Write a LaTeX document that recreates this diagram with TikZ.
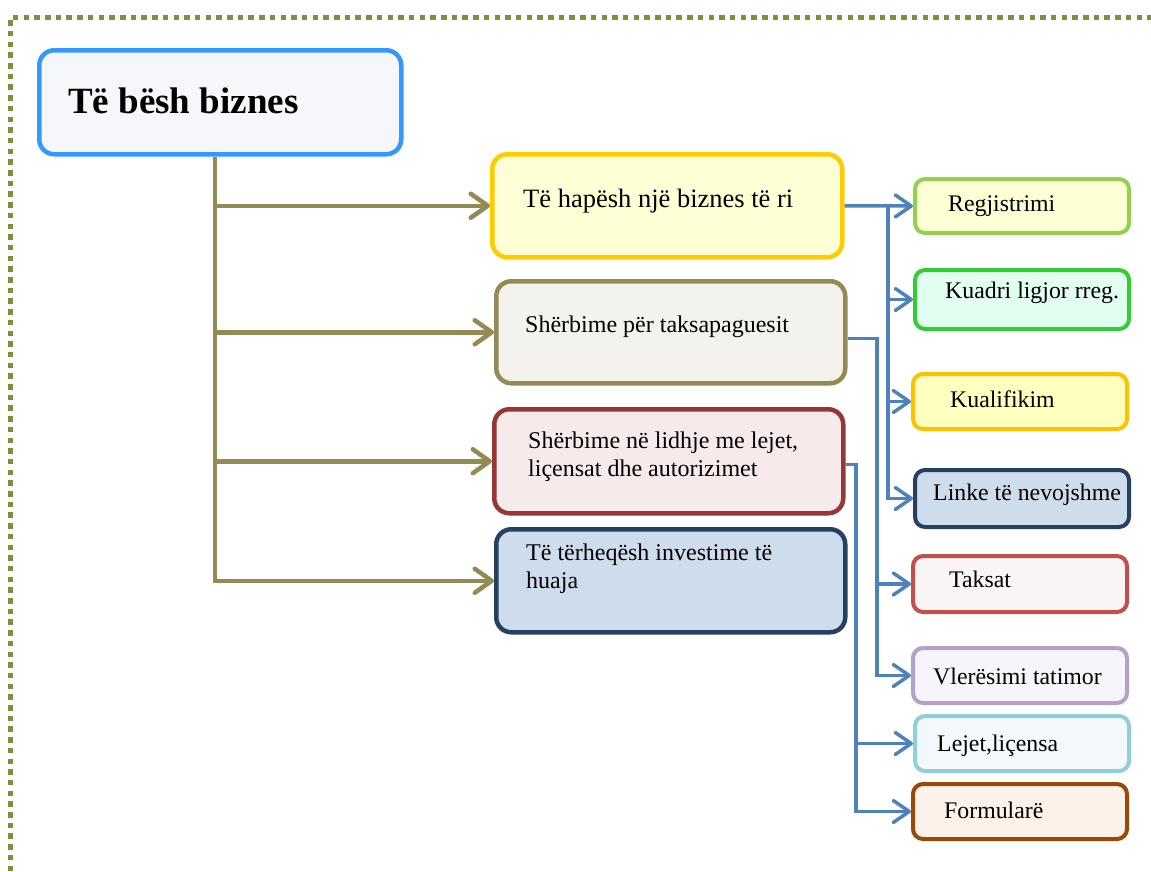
\documentclass[tikz,border=0pt]{standalone}
\usepackage{fontspec}
\setmainfont{Liberation Serif}
\usetikzlibrary{arrows.meta}
\definecolor{frameolive}{HTML}{77933C}
\definecolor{trunkolive}{HTML}{948A54}
\definecolor{linkblue}{HTML}{4F81BD}
\begin{document}
\begin{tikzpicture}[x=1pt,y=-1pt,
		bigbox/.style={anchor=north west, inner sep=0pt, line width=4.5pt, rounded corners=15pt, minimum width=349pt, minimum height=103pt},
		smallbox/.style={anchor=north west, inner sep=0pt, line width=4pt, rounded corners=10pt, minimum width=214pt, minimum height=55pt},
		boxtext/.style={anchor=base west, inner sep=0pt, align=left, font=\fontsize{24}{28}\selectfont},
		smalltext/.style={anchor=base west, inner sep=0pt, font=\fontsize{23.8}{28}\selectfont},
		olivelink/.style={draw=trunkolive, line width=4.5pt, -{Straight Barb[length=17pt, width=24pt, round]}},
		bluelink/.style={draw=linkblue, line width=3.5pt, -{Straight Barb[length=16pt, width=22pt, round]}}]
		\useasboundingbox (0,0) rectangle (1151,871);
		\draw[frameolive, line width=5.5pt, dash pattern=on 5.5pt off 5.2pt] (10.5,871) -- (10.5,17.5) -- (1151,17.5);
		% main box
		\node[bigbox, draw={rgb,255:red,51;green,153;blue,255}, fill={rgb,255:red,245;green,247;blue,251}, minimum width=362pt, minimum height=104pt] (title) at (37,48) {};
		\node[anchor=base west, inner sep=0pt, font=\bfseries\fontsize{37}{40}\selectfont] (titleT) at (68,113) {Të bësh biznes};
		% middle column
		\node[bigbox, draw={rgb,255:red,255;green,204;blue,0}, fill={rgb,255:red,255;green,255;blue,213}, minimum width=350pt] (open) at (490,152) {};
		\node[boxtext, font=\fontsize{26.5}{30}\selectfont] (openT) at (523,207) {Të hapësh një biznes të ri};
		\node[bigbox, draw=trunkolive, fill={rgb,255:red,243;green,242;blue,236}, minimum height=102pt] (tax) at (494,279) {};
		\node[boxtext] (taxT) at (525,332) {Shërbime për taksapaguesit};
		\node[bigbox, draw={rgb,255:red,149;green,55;blue,53}, fill={rgb,255:red,246;green,234;blue,234}, minimum height=104pt] (lic) at (492,407) {};
		\node[boxtext] (licT) at (528,476) {Shërbime në lidhje me lejet,\\liçensat dhe autorizimet};
		\node[bigbox, draw={rgb,255:red,37;green,64;blue,97}, fill={rgb,255:red,207;green,220;blue,236}] (inv) at (494,527) {};
		\node[boxtext] (invT) at (526,588) {Të tërheqësh investime të\\huaja};
		% right column
		\node[smallbox, draw={rgb,255:red,146;green,208;blue,80}, fill={rgb,255:red,255;green,255;blue,213}, minimum height=54pt] (reg) at (913,177) {};
		\node[smalltext] (regT) at (948,211) {Regjistrimi};
		\node[smallbox, draw={rgb,255:red,51;green,204;blue,51}, fill={rgb,255:red,226;green,254;blue,240}, minimum height=59pt] (kuadri) at (913,268) {};
		\node[smalltext] (kuadriT) at (945,298) {Kuadri ligjor rreg.};
		\node[smallbox, draw={rgb,255:red,255;green,192;blue,0}, fill={rgb,255:red,255;green,255;blue,192}] (kual) at (911,372) {};
		\node[smalltext] (kualT) at (950,407) {Kualifikim};
		\node[smallbox, draw={rgb,255:red,37;green,64;blue,97}, fill={rgb,255:red,207;green,220;blue,236}, minimum height=57pt] (link) at (913,468) {};
		\node[smalltext] (linkT) at (933,500) {Linke të nevojshme};
		\node[smallbox, draw={rgb,255:red,192;green,80;blue,77}, fill={rgb,255:red,250;green,244;blue,244}, minimum height=56pt] (taks) at (911,554) {};
		\node[smalltext] (taksT) at (949,587) {Taksat};
		\node[smallbox, draw={rgb,255:red,179;green,162;blue,199}, fill={rgb,255:red,246;green,245;blue,250}] (vler) at (911,646) {};
		\node[smalltext] (vlerT) at (933,684) {Vlerësimi tatimor};
		\node[smallbox, draw={rgb,255:red,146;green,205;blue,220}, fill={rgb,255:red,243;green,248;blue,252}] (lej) at (913,714) {};
		\node[smalltext] (lejT) at (937,751) {Lejet,liçensa};
		\node[smallbox, draw={rgb,255:red,152;green,72;blue,7}, fill={rgb,255:red,253;green,242;blue,233}] (form) at (911,782) {};
		\node[smalltext] (formT) at (944,818) {Formularë};
		% olive tree
		\coordinate (trunk) at (215,0);
		\draw[olivelink] (title.south -| trunk) |- (inv.west);
		\foreach \b in {open,tax,lic}
			\draw[olivelink] (trunk |- \b.west) -- (\b.west);
		% blue links
		\coordinate (busA) at (888,0);
		\coordinate (busB) at (877,0);
		\coordinate (busC) at (856,0);
		\draw[bluelink] (open.east) -- (reg.west);
		\draw[bluelink] (busA |- open.east) |- (link.west);
		\draw[bluelink] (busA |- kuadri.west) -- (kuadri.west);
		\draw[bluelink] (busA |- kual.west) -- (kual.west);
		\draw[bluelink] ([yshift=-6pt]tax.east) -| (busB |- vler.west) -- (vler.west);
		\draw[bluelink] (busB |- taks.west) -- (taks.west);
		\draw[bluelink] ([yshift=-3pt]lic.east) -| (busC |- form.west) -- (form.west);
		\draw[bluelink] (busC |- lej.west) -- (lej.west);
\end{tikzpicture}
\end{document}
